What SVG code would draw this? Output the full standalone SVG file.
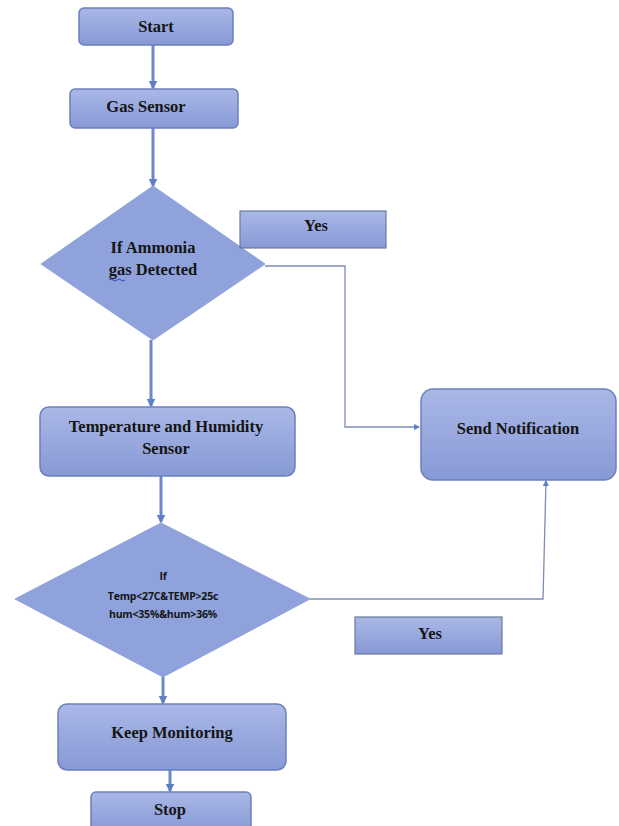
<svg xmlns="http://www.w3.org/2000/svg" width="619" height="826" viewBox="0 0 619 826">
<defs>
<linearGradient id="g" x1="0" y1="0" x2="0" y2="1">
<stop offset="0" stop-color="#aab8e6"/>
<stop offset="1" stop-color="#8799d6"/>
</linearGradient>
<marker id="a" viewBox="0 0 6 6" refX="5" refY="3" markerWidth="3" markerHeight="3" orient="auto">
<path d="M0,0 L6,3 L0,6 z" fill="#5f7fc4"/>
</marker>
<marker id="b" viewBox="0 0 6 6" refX="5" refY="3" markerWidth="5" markerHeight="5" orient="auto">
<path d="M0,0 L6,3 L0,6 z" fill="#5f7fc4"/>
</marker>
<style>
.n{fill:url(#g);stroke:#6b7fbc;stroke-width:1.5}
.y{fill:url(#g);stroke:#6b7a9c;stroke-width:1.2}
.d{fill:#8fa2db;stroke:#8fa2db;stroke-width:1}
.t{font-family:"Liberation Serif",serif;font-weight:bold;font-size:16.5px;fill:#151515;text-anchor:middle}
.s{font-family:"Open Sans","Liberation Sans",sans-serif;font-weight:bold;font-size:10.5px;fill:#151515;text-anchor:middle;letter-spacing:-0.2px}
.c{fill:none;stroke:#6b88c8;stroke-width:3}
.c2{fill:none;stroke:#7d8db3;stroke-width:1.3}
</style>
</defs>
<rect width="619" height="826" fill="#ffffff"/>
<g id="connectors">
<path class="c" d="M153,45 V88" marker-end="url(#a)"/>
<path class="c" d="M153,128 V186" marker-end="url(#a)"/>
<path class="c" d="M151,340 V406" marker-end="url(#a)"/>
<path class="c" d="M161,476 V522" marker-end="url(#a)"/>
<path class="c" d="M163,677 V703" marker-end="url(#a)"/>
<path class="c" d="M170,770 V791" marker-end="url(#a)"/>
<path class="c2" d="M265,266 H345 V427 H419" marker-end="url(#b)"/>
<path class="c2" d="M310,599 H543 L546,481" marker-end="url(#b)"/>
</g>
<g id="start">
<rect class="n" x="79" y="8" width="154" height="37" rx="5"/>
<text class="t" x="156" y="32">Start</text>
</g>
<g id="gas-sensor">
<rect class="n" x="70" y="89" width="168" height="39" rx="5"/>
<text class="t" x="146" y="112">Gas Sensor</text>
</g>
<g id="ammonia-decision">
<polygon class="d" points="153,186 265,264 153,340 41,264"/>
<text class="t" x="153" y="253">If Ammonia</text>
<text class="t" x="153" y="275">gas Detected</text>
<path d="M109,280 q2,-2 4,0 t4,0 t4,0 t4,0" fill="none" stroke="#3344cc" stroke-width="1"/>
</g>
<g id="yes-1">
<rect class="y" x="240" y="211" width="146" height="37"/>
<text class="t" x="316" y="231">Yes</text>
</g>
<g id="send-notification">
<rect class="n" x="421" y="389" width="195" height="91" rx="12"/>
<text class="t" x="518" y="434">Send Notification</text>
</g>
<g id="temp-humidity-sensor">
<rect class="n" x="40" y="407" width="255" height="69" rx="9"/>
<text class="t" x="166" y="432">Temperature and Humidity</text>
<text class="t" x="166" y="454">Sensor</text>
</g>
<g id="temp-decision">
<polygon class="d" points="161,523 310,599 163,677 15,599"/>
<text class="s" x="163" y="580">If</text>
<text class="s" x="163" y="600">Temp&lt;27C&amp;TEMP&gt;25c</text>
<text class="s" x="163" y="618">hum&lt;35%&amp;hum&gt;36%</text>
</g>
<g id="yes-2">
<rect class="y" x="355" y="617" width="147" height="37"/>
<text class="t" x="430" y="639">Yes</text>
</g>
<g id="keep-monitoring">
<rect class="n" x="58" y="704" width="228" height="66" rx="9"/>
<text class="t" x="172" y="738">Keep Monitoring</text>
</g>
<g id="stop">
<rect class="n" x="91" y="792" width="160" height="40" rx="5"/>
<text class="t" x="170" y="815">Stop</text>
</g>
</svg>
